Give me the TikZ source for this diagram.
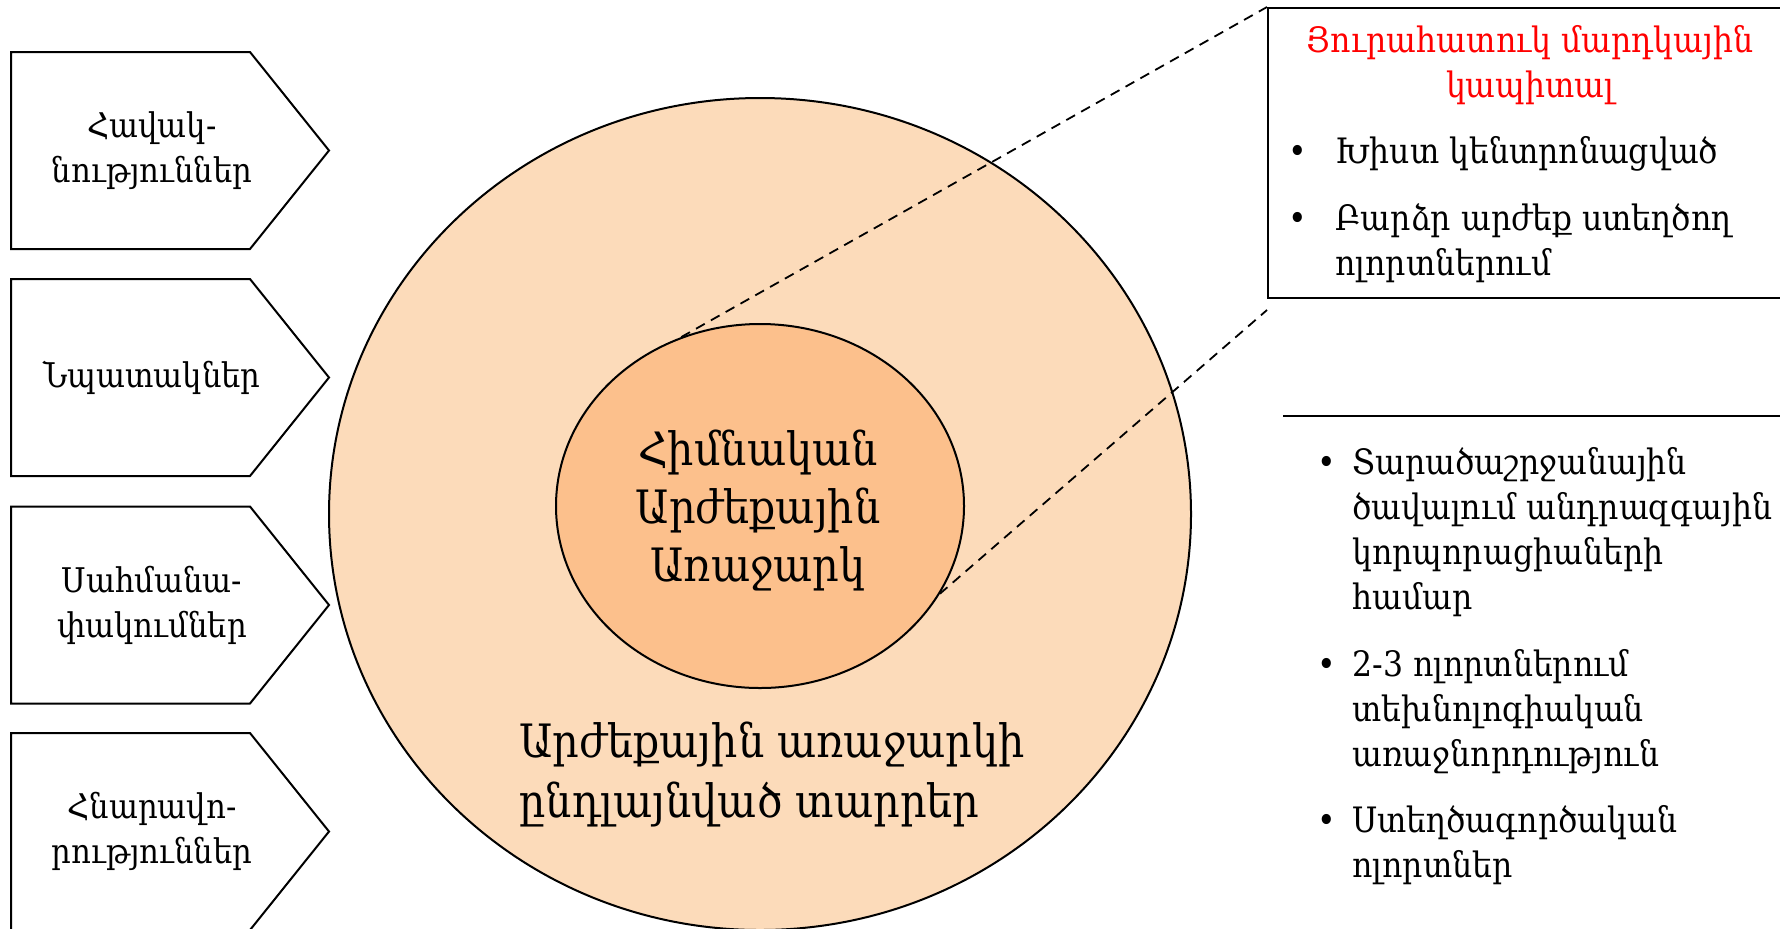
\documentclass[tikz,border=0pt]{standalone}
\usepackage{fontspec}
\setmainfont{DejaVu Serif Condensed}
\usepackage{xcolor}
\usetikzlibrary{shapes.geometric}
\definecolor{ring}{HTML}{FCDBBA}
\definecolor{core}{HTML}{FCC08C}
\definecolor{title}{HTML}{FF0000}
\tikzset{
  edge/.style={draw=black, line width=1pt, line join=miter},
  link/.style={draw=black, line width=0.9pt, dash pattern=on 5pt off 3.5pt},
  tag/.style={align=center, font=\fontsize{17}{22.5}\selectfont, inner sep=0pt},
  item/.style={align=left, anchor=base west, font=\fontsize{17.5}{22.5}\selectfont, inner sep=0pt},
  dot/.style={anchor=base, font=\fontsize{17.5}{22.5}\selectfont, inner sep=0pt},
  big/.style={font=\fontsize{23}{29}\selectfont, inner sep=0pt},
}

\begin{document}
\begin{tikzpicture}[x=0.5pt, y=-0.5pt]
  \useasboundingbox (0,0) rectangle (1780,928);
  \pgfmathsetmacro{\h}{98.5}

  % left side: four arrow shapes
  \foreach \yc/\txt [count=\i] in {150.5/{Հավակ-\\նություններ}, 377.5/{Նպատակներ},
      605/{Սահմանա-\\փակումներ}, 831.5/{Հնարավո-\\րություններ}} {
    \draw[edge] (11,\yc-\h) -- (250,\yc-\h) -- (329,\yc) -- (250,\yc+\h)
      -- (11,\yc+\h) -- cycle;
    \node[tag] (side\i) at (152,\yc) {\txt};
  }

  % circles (sizes in pt, half the pixels)
  \node[ellipse, edge, fill=ring, minimum width=431pt, minimum height=416pt,
    inner sep=0pt] (outer) at (760,514) {};
  \node[ellipse, edge, fill=core, minimum width=204pt, minimum height=182pt,
    inner sep=0pt] (inner) at (760,506) {};
  \node[big, align=center, anchor=base] (core) at (758,581)
    {Հիմնական\\Արժեքային\\Առաջարկ};
  \node[big, align=left, anchor=base west, font=\fontsize{23}{30}\selectfont]
    (ringtxt) at (519,817) {Արժեքային առաջարկի\\ընդլայնված տարրեր};

  % box on the right
  \node[edge, rectangle, anchor=north west, minimum width=280pt, minimum height=145pt,
    inner sep=0pt] (box) at (1267,7) {};
  \node[align=center, anchor=base, text=title, inner sep=0pt,
    font=\fontsize{17.5}{22.5}\selectfont] (head) at (1530,97)
    {Յուրահատուկ մարդկային\\կապիտալ};
  \node[dot] (b1) at (1298,163) {•};
  \node[item] (t1) at (1335,163) {Խիստ կենտրոնացված};
  \node[dot] (b2) at (1298,230) {•};
  \node[item] (t2) at (1335,275) {Բարձր արժեք ստեղծող\\ոլորտներում};

  \coordinate (low) at (1267,310);
  \draw[link] (inner.115) -- (box.north west);
  \draw[link] (inner.-26) -- (low);

  % lower right list
  \coordinate (rule1) at (1283,416);
  \coordinate (rule2) at (1782,416);
  \draw[edge] (rule1) -- (rule2);
  \node[dot] (c1) at (1327,474) {•};
  \node[item] (u1) at (1352,609) {Տարածաշրջանային\\ծավալում անդրազգային\\կորպորացիաների\\համար};
  \node[dot] (c2) at (1327,676) {•};
  \node[item] (u2) at (1352,766) {2-3 ոլորտներում\\տեխնոլոգիական\\առաջնորդություն};
  \node[dot] (c3) at (1327,832) {•};
  \node[item] (u3) at (1352,877) {Ստեղծագործական\\ոլորտներ};
\end{tikzpicture}
\end{document}
